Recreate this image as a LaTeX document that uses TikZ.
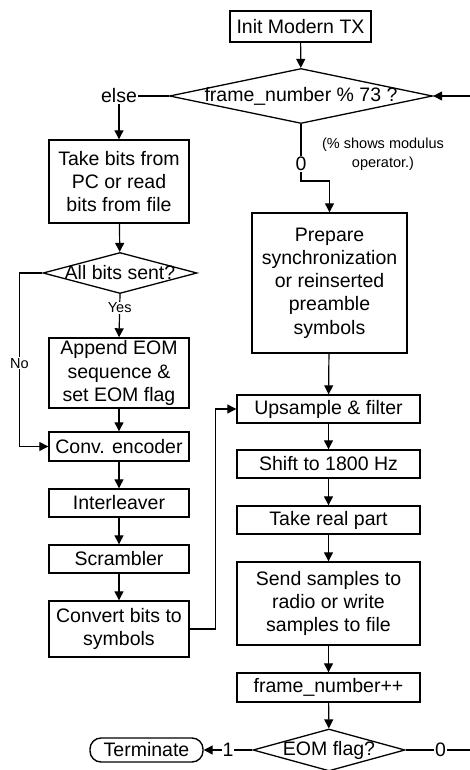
\documentclass[tikz,border=0pt]{standalone}
\usepackage{fontspec}
\setmainfont{Liberation Sans}
\usepackage{xcolor}
\usetikzlibrary{shapes.geometric,arrows.meta}

\begin{document}
\begin{tikzpicture}[x=1pt, y=-1pt,
    every node/.style={font=\fontsize{19.5}{23.3}\selectfont},
    box/.style={draw, rectangle, line width=1.4pt, align=center, inner sep=1pt},
    decision/.style={draw, diamond, line width=1.3pt, inner sep=0pt},
    small/.style={font=\fontsize{14.5}{19}\selectfont},
    tag/.style={fill=white, inner sep=1pt},
    arr/.style={-{Triangle[length=9pt,width=9pt]}, line width=1.2pt},
    line/.style={line width=1.2pt}]
    \useasboundingbox (0,0) rectangle (470,770);

    % Start
    \node[box, minimum width=141pt, minimum height=31pt] (init) at (300.5,26.5) {Init Modern TX};

    % Frame test
    \node[decision, minimum width=263pt, minimum height=55pt, label=center:{frame\_number \% 73 ?}] (fnum) at (301,96) {};
    \node[inner sep=1pt] (else) at (119,96) {else};
    \node[small, align=center] (note) at (383,154) {(\% shows modulus\\operator.)};

    % Left column
    \node[box, minimum width=140pt, minimum height=83pt] (take) at (119,181.5) {Take bits from\\PC or read\\bits from file};
    \node[decision, minimum width=154pt, minimum height=41pt, label=center:{All bits sent?}] (allbits) at (120,273) {};
    \node[box, minimum width=140pt, minimum height=70pt] (append) at (119,373) {Append EOM\\sequence \&\\set EOM flag};
    \node[box, minimum width=140pt, minimum height=29pt] (conv) at (119,446.5) {Conv. encoder};
    \node[box, minimum width=140pt, minimum height=28pt] (inter) at (119,503) {Interleaver};
    \node[box, minimum width=140pt, minimum height=28pt] (scram) at (119,559) {Scrambler};
    \node[box, minimum width=140pt, minimum height=56pt] (convert) at (119,629) {Convert bits to\\symbols};

    % Right column
    \node[box, minimum width=155pt, minimum height=140pt] (prep) at (329.5,283) {Prepare\\synchronization\\or reinserted\\preamble\\symbols};
    \node[box, minimum width=183pt, minimum height=28pt] (ups) at (328.5,409) {Upsample \& filter};
    \node[box, minimum width=183pt, minimum height=28pt] (shift) at (328.5,464) {Shift to 1800 Hz};
    \node[box, minimum width=183pt, minimum height=28pt] (real) at (328.5,520) {Take real part};
    \node[box, minimum width=183pt, minimum height=83pt] (send) at (328.5,603.5) {Send samples to\\radio or write\\samples to file};
    \node[box, minimum width=183pt, minimum height=29pt] (fpp) at (328.5,687.5) {frame\_number++};

    % End test
    \node[decision, minimum width=152pt, minimum height=42pt, label=center:{EOM flag?}] (eom) at (329,750) {};
    \node[box, rounded corners=11pt, minimum width=113pt, minimum height=24pt] (term) at (146.5,750) {Terminate};
    \coordinate (loop) at (500,750);

    % Connections
    \draw[arr] (init) -- (fnum);
    \draw[line] (fnum.west) -- (else.east);
    \draw[arr] (else.south) -- (take.north);
    \draw[arr] (fnum.south) -- node[tag, pos=0.7] (zero) {0} (301,181) -| (prep.north);
    \draw[arr] (take) -- (allbits);
    \draw[arr] (allbits.south) -- node[tag, small, pos=0.32] (yes) {Yes} (append.north);
    \draw[arr] (allbits.west) -- ++(-23,0) |- node[tag, small, pos=0.26] (no) {No} (conv.west);
    \draw[arr] (append) -- (conv);
    \draw[arr] (conv) -- (inter);
    \draw[arr] (inter) -- (scram);
    \draw[arr] (scram) -- (convert);
    \draw[arr] (convert.east) -- ++(26,0) |- (ups.west);
    \draw[arr] (prep) -- (ups);
    \draw[arr] (ups) -- (shift);
    \draw[arr] (shift) -- (real);
    \draw[arr] (real) -- (send);
    \draw[arr] (send) -- (fpp);
    \draw[arr] (fpp) -- (eom);
    \draw[arr] (eom.west) -- node[tag] (one) {1} (term.east);
    \draw[arr] (eom.east) -- node[tag, pos=0.37] (nil) {0} (loop) |- (fnum.east);
\end{tikzpicture}
\end{document}
